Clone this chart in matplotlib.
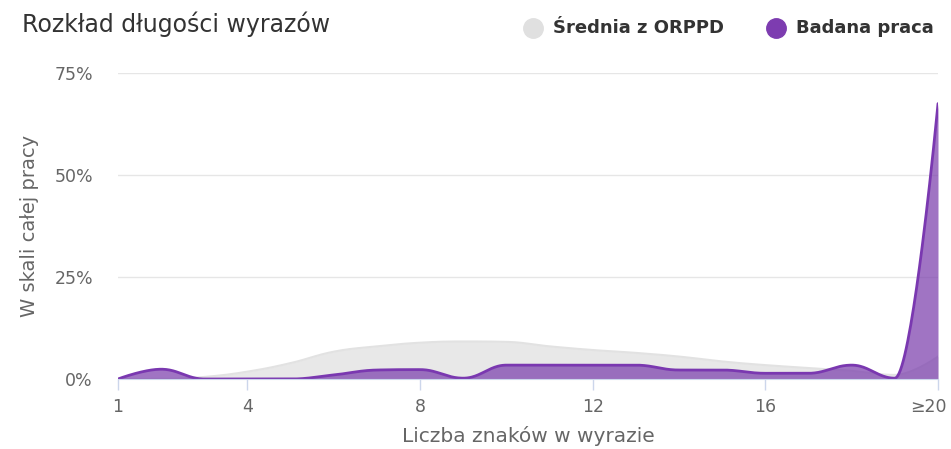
import numpy as np
import matplotlib
matplotlib.use('Agg')
import matplotlib.pyplot as plt
from matplotlib.lines import Line2D
from matplotlib.transforms import ScaledTranslation

plt.rcParams['font.family'] = ['DejaVu Sans']

# Word length distribution (share of all words, %)
lengths = np.arange(1, 21)
avg_orppd = [0.0, 0.0, 0.5, 1.8, 3.9, 6.7, 8.0, 8.9, 9.2, 9.1,
             8.0, 7.1, 6.4, 5.5, 4.3, 3.4, 2.7, 2.0, 1.0, 5.5]
this_work = [0.0, 2.4, 0.0, 0.0, 0.0, 1.0, 2.2, 2.3, 0.2, 3.4,
             3.4, 3.4, 3.4, 2.2, 2.2, 1.4, 1.4, 3.4, 0.2, 67.5]
tick_pos = [1, 4, 8, 12, 16, 20]
tick_lbl = ['1', '4', '8', '12', '16', '≥20']


def spline(xs, ys, n=40, smoothing=1.5):
    """Highcharts-style areaspline curve through the points."""
    xs = np.asarray(xs, float)
    ys = np.asarray(ys, float)
    m = len(xs)
    lx, ly = xs.copy(), ys.copy()
    rx, ry = xs.copy(), ys.copy()
    denom = smoothing + 1
    for i in range(1, m - 1):
        px, py = xs[i], ys[i]
        ax_, ay = xs[i - 1], ys[i - 1]
        nx, ny = xs[i + 1], ys[i + 1]
        lcx = (smoothing * px + ax_) / denom
        lcy = (smoothing * py + ay) / denom
        rcx = (smoothing * px + nx) / denom
        rcy = (smoothing * py + ny) / denom
        if rcx != lcx:
            corr = (rcy - lcy) * (rcx - px) / (rcx - lcx) + py - rcy
            lcy += corr
            rcy += corr
        if lcy > ay and lcy > py:
            lcy = max(ay, py)
            rcy = 2 * py - lcy
        elif lcy < ay and lcy < py:
            lcy = min(ay, py)
            rcy = 2 * py - lcy
        if rcy > ny and rcy > py:
            rcy = max(ny, py)
            lcy = 2 * py - rcy
        elif rcy < ny and rcy < py:
            rcy = min(ny, py)
            lcy = 2 * py - rcy
        lx[i], ly[i], rx[i], ry[i] = lcx, lcy, rcx, rcy
    t = np.linspace(0, 1, n)[:, None]
    out = []
    for i in range(m - 1):
        p0 = np.array([xs[i], ys[i]])
        p1 = np.array([rx[i], ry[i]])
        p2 = np.array([lx[i + 1], ly[i + 1]])
        p3 = np.array([xs[i + 1], ys[i + 1]])
        seg = ((1 - t) ** 3) * p0 + 3 * ((1 - t) ** 2) * t * p1 \
            + 3 * (1 - t) * t ** 2 * p2 + t ** 3 * p3
        out.append(seg if i == 0 else seg[1:])
    out = np.vstack(out)
    return out[:, 0], out[:, 1]


fig = plt.figure(figsize=(9.51, 4.49), dpi=100)
ax = fig.add_axes([118 / 951, 70 / 449, 820 / 951, 306 / 449])

gx, gy = spline(lengths, avg_orppd)
px, py = spline(lengths, this_work)

ax.fill_between(gx, 0, gy, color='#e8e8e8', lw=0, zorder=2)
ax.plot(gx, gy, color='#e2e2e2', lw=1.5, zorder=3)
ax.fill_between(px, 0, py, color='#7b3fad', alpha=0.72, lw=0, zorder=4)
ax.plot(px, py, color='#7a38b0', lw=2, zorder=5, solid_capstyle='round')

ax.set_xlim(1, 20)
ax.set_ylim(0, 75)
ax.set_yticks([0, 25, 50, 75])
ax.set_yticklabels(['0%', '25%', '50%', '75%'])
ax.set_xticks(tick_pos)
ax.set_xticklabels(tick_lbl)

ax.grid(axis='y', color='#e6e6e6', lw=1, zorder=0)
ax.set_axisbelow(True)
for side in ('top', 'right', 'left'):
    ax.spines[side].set_visible(False)
ax.spines['bottom'].set_color('#ccd6eb')
ax.spines['bottom'].set_zorder(6)
ax.tick_params(axis='y', length=0, pad=18, labelsize=12.5, labelcolor='#666666')
ax.tick_params(axis='x', length=8, width=1, color='#ccd6eb', pad=6,
               labelsize=12.5, labelcolor='#666666')
last = ax.get_xticklabels()[-1]
last.set_horizontalalignment('right')
last.set_transform(last.get_transform() + ScaledTranslation(0.09, 0, fig.dpi_scale_trans))

ax.set_xlabel('Liczba znaków w wyrazie', fontsize=14.5, color='#666666', labelpad=7)
ax.set_ylabel('W skali całej pracy', fontsize=14, color='#666666', labelpad=11)

fig.text(22 / 951, 1 - 24 / 449, 'Rozkład długości wyrazów', fontsize=17,
         color='#333333', va='center', ha='left')

# legend
ly = 1 - 28 / 449
for xc, col, lab in [(533, '#e0e0e0', 'Średnia z ORPPD'),
                     (776, '#7d3cb0', 'Badana praca')]:
    fig.add_artist(Line2D([xc / 951], [ly], marker='o', markersize=14,
                          color=col, transform=fig.transFigure, lw=0))
    fig.text((xc + 20) / 951, ly, lab, fontsize=13, fontweight='bold',
             color='#333333', va='center', ha='left')

fig.savefig('out.png', dpi=100, facecolor='white')
